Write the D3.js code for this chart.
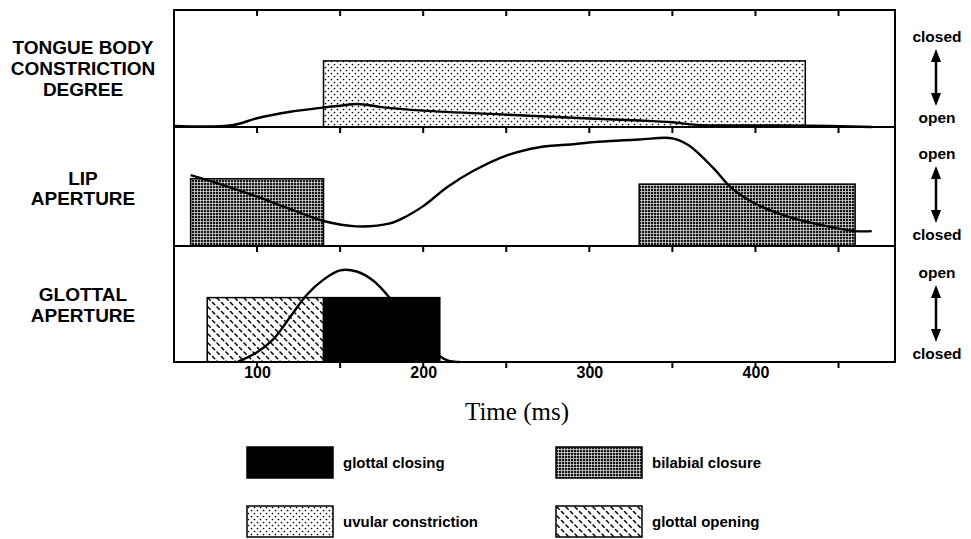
<!DOCTYPE html>
<html>
<head>
<meta charset="utf-8">
<script src="https://cdn.jsdelivr.net/npm/d3@7"></script>
<style>
  body { margin: 0; background: #fff; }
  svg { display: block; }
  text { font-family: "Liberation Sans", Arial, Helvetica, sans-serif; fill: #000; }
</style>
</head>
<body>
<div id="chart"></div>
<script>
// gestural score: three tract variables over time

const timeTicks = [100, 150, 200, 250, 300, 350, 400, 450];
const timeLabels = [100, 200, 300, 400];

const panelNames = [
  ["TONGUE BODY", "CONSTRICTION", "DEGREE"],
  ["LIP", "APERTURE"],
  ["GLOTTAL", "APERTURE"]
];
const topLabels = ["closed", "open", "open"];
const bottomLabels = ["open", "closed", "closed"];

// trajectories [ms, normalised value]
const tongueCurve = [
  [50, 0.01], [85, 0.015], [100, 0.075], [120, 0.13], [140, 0.167],
  [150, 0.182], [161, 0.197], [175, 0.17], [200, 0.14], [250, 0.105], [300, 0.073],
  [330, 0.056], [350, 0.04], [365, 0.018], [430, 0.012], [470, 0.0]
];
const lipCurve = [
  [60, 0.595], [80, 0.51], [100, 0.415], [120, 0.31], [140, 0.21], [160, 0.165],
  [180, 0.19], [190, 0.25], [200, 0.335], [215, 0.5], [230, 0.63], [250, 0.76],
  [270, 0.83], [290, 0.855], [300, 0.87], [330, 0.895], [350, 0.905], [360, 0.845],
  [375, 0.65], [385, 0.495], [400, 0.355], [420, 0.245], [440, 0.175], [460, 0.125],
  [470, 0.125]
];
const glottalCurve = [
  [88, 0.0], [100, 0.085], [110, 0.2], [120, 0.39], [130, 0.58], [140, 0.71],
  [150, 0.79], [160, 0.78], [170, 0.7], [180, 0.55], [190, 0.36], [200, 0.18],
  [210, 0.05], [215, 0.012], [222, 0.0]
];
const curves = [tongueCurve, lipCurve, glottalCurve];

// gesture activation boxes
const gestures = [
  { panel: 0, kind: "uvular", start: 140, end: 430, level: 0.565 },
  { panel: 1, kind: "bilabial", start: 60, end: 140, level: 0.565 },
  { panel: 1, kind: "bilabial", start: 330, end: 460, level: 0.52 },
  { panel: 2, kind: "gopen", start: 70, end: 140, level: 0.555 },
  { panel: 2, kind: "gclose", start: 140, end: 210, level: 0.555 }
];

const legendItems = [
  { kind: "gclose", label: "glottal closing" },
  { kind: "bilabial", label: "bilabial closure" },
  { kind: "uvular", label: "uvular constriction" },
  { kind: "gopen", label: "glottal opening" }
];

const width = 971, height = 539;
const left = 174, right = 895;
const panelTops = [10, 127, 246];
const bottom = 362;

const svg = d3.select("#chart").append("svg")
  .attr("width", width).attr("height", height);

// fill patterns
const defs = svg.append("defs");

const dots = defs.append("pattern").attr("id", "uvular")
  .attr("patternUnits", "userSpaceOnUse").attr("width", 6).attr("height", 6);
dots.append("rect").attr("width", 6).attr("height", 6).attr("fill", "#fff");
dots.append("circle").attr("cx", 1.5).attr("cy", 1.5).attr("r", 0.85).attr("fill", "#000");
dots.append("circle").attr("cx", 4.5).attr("cy", 4.5).attr("r", 0.85).attr("fill", "#000");

const grid = defs.append("pattern").attr("id", "bilabial")
  .attr("patternUnits", "userSpaceOnUse").attr("width", 3).attr("height", 3);
grid.append("rect").attr("width", 3).attr("height", 3).attr("fill", "#1a1a1a");
grid.append("path").attr("d", "M2.5,0V3M0,2.5H3")
  .attr("stroke", "#fff").attr("stroke-width", 0.6);

const dash = defs.append("pattern").attr("id", "gopen")
  .attr("patternUnits", "userSpaceOnUse").attr("width", 9).attr("height", 9);
dash.append("rect").attr("width", 9).attr("height", 9).attr("fill", "#fff");
dash.append("path").attr("d", "M1,1L3.2,3.2M5.5,5.5L7.7,7.7")
  .attr("stroke", "#000").attr("stroke-width", 1.5).attr("stroke-linecap", "round");

const fillFor = (kind) => kind === "gclose" ? "#000" : `url(#${kind})`;

const x = d3.scaleLinear().domain([50, 484]).range([left, right]);

const panelBottoms = [panelTops[1], panelTops[2], bottom];
const yScales = panelTops.map((t, i) =>
  d3.scaleLinear().domain([0, 1]).range([panelBottoms[i], t]));

// gesture boxes
svg.selectAll("rect.gesture")
  .data(gestures)
  .enter()
  .append("rect")
  .attr("class", "gesture")
  .attr("x", (d) => x(d.start))
  .attr("y", (d) => yScales[d.panel](d.level))
  .attr("width", (d) => x(d.end) - x(d.start))
  .attr("height", (d) => yScales[d.panel](0) - yScales[d.panel](d.level))
  .attr("fill", (d) => fillFor(d.kind))
  .attr("stroke", "#000")
  .attr("stroke-width", 1.5);

// trajectories
curves.forEach((pts, i) => {
  const line = d3.line()
    .x((d) => x(d[0]))
    .y((d) => yScales[i](d[1]))
    .curve(d3.curveCatmullRom.alpha(0.5));
  svg.append("path")
    .datum(pts)
    .attr("d", line)
    .attr("fill", "none")
    .attr("stroke", "#000")
    .attr("stroke-width", 2.4);
});

// frame and dividers
svg.append("rect")
  .attr("x", left).attr("y", panelTops[0])
  .attr("width", right - left).attr("height", bottom - panelTops[0])
  .attr("fill", "none").attr("stroke", "#000").attr("stroke-width", 2);

panelTops.slice(1).forEach((t) => {
  svg.append("line")
    .attr("x1", left).attr("x2", right).attr("y1", t).attr("y2", t)
    .attr("stroke", "#000").attr("stroke-width", 2);
});

// ticks hang down from every horizontal line
const tickRows = panelTops.concat([bottom]);
tickRows.forEach((t) => {
  svg.append("g")
    .selectAll("rect")
    .data(timeTicks)
    .enter()
    .append("rect")
    .attr("x", (d) => x(d) - 1)
    .attr("y", t)
    .attr("width", 2)
    .attr("height", 6)
    .attr("fill", "#000");
});

const labelAxis = svg.append("g")
  .attr("transform", `translate(0,${bottom})`)
  .call(d3.axisBottom(x).tickValues(timeLabels).tickSize(0).tickFormat(d3.format("d")));
labelAxis.select(".domain").remove();
labelAxis.selectAll("text")
  .attr("y", 16).attr("dy", 0)
  .style("font-family", '"Liberation Sans", Arial, sans-serif')
  .style("font-size", "16px")
  .style("font-weight", "bold")
  .attr("fill", "#000");

svg.append("text")
  .attr("x", 517).attr("y", 420)
  .attr("text-anchor", "middle")
  .style("font-family", '"Liberation Serif", "Times New Roman", serif')
  .style("font-size", "25px")
  .text("Time (ms)");

// panel names on the left
const nameOffsets = [[44, 65, 86], [58, 78], [55, 76]];
panelNames.forEach((lines, i) => {
  lines.forEach((s, j) => {
    svg.append("text")
      .attr("x", 83)
      .attr("y", panelTops[i] + nameOffsets[i][j])
      .attr("text-anchor", "middle")
      .style("font-size", "19px")
      .style("font-weight", "bold")
      .text(s);
  });
});

// open / closed arrows on the right
const arrowX = 936;
panelTops.forEach((t, i) => {
  svg.append("text")
    .attr("x", 937).attr("y", t + 32)
    .attr("text-anchor", "middle")
    .style("font-size", "15.5px").style("font-weight", "bold")
    .text(topLabels[i]);
  svg.append("text")
    .attr("x", 937).attr("y", t + 113)
    .attr("text-anchor", "middle")
    .style("font-size", "15.5px").style("font-weight", "bold")
    .text(bottomLabels[i]);

  const y1 = t + 39, y2 = t + 96;
  svg.append("line")
    .attr("x1", arrowX).attr("x2", arrowX)
    .attr("y1", y1 + 8).attr("y2", y2 - 8)
    .attr("stroke", "#000").attr("stroke-width", 2.5);
  svg.append("path")
    .attr("d", `M${arrowX},${y1}L${arrowX - 5},${y1 + 13}L${arrowX + 5},${y1 + 13}Z`)
    .attr("fill", "#000");
  svg.append("path")
    .attr("d", `M${arrowX},${y2}L${arrowX - 5},${y2 - 13}L${arrowX + 5},${y2 - 13}Z`)
    .attr("fill", "#000");
});

// legend
const legendCols = [247, 556];
const legendRows = [447, 506];
const legend = svg.selectAll("g.legend")
  .data(legendItems)
  .enter()
  .append("g")
  .attr("class", "legend")
  .attr("transform", (d, i) => `translate(${legendCols[i % 2]},${legendRows[Math.floor(i / 2)]})`);

legend.append("rect")
  .attr("width", 86).attr("height", 31)
  .attr("fill", (d) => fillFor(d.kind))
  .attr("stroke", "#000").attr("stroke-width", 1.5);

legend.append("text")
  .attr("x", 96).attr("y", 21)
  .style("font-size", "15px").style("font-weight", "bold")
  .text((d) => d.label);
</script>
</body>
</html>
